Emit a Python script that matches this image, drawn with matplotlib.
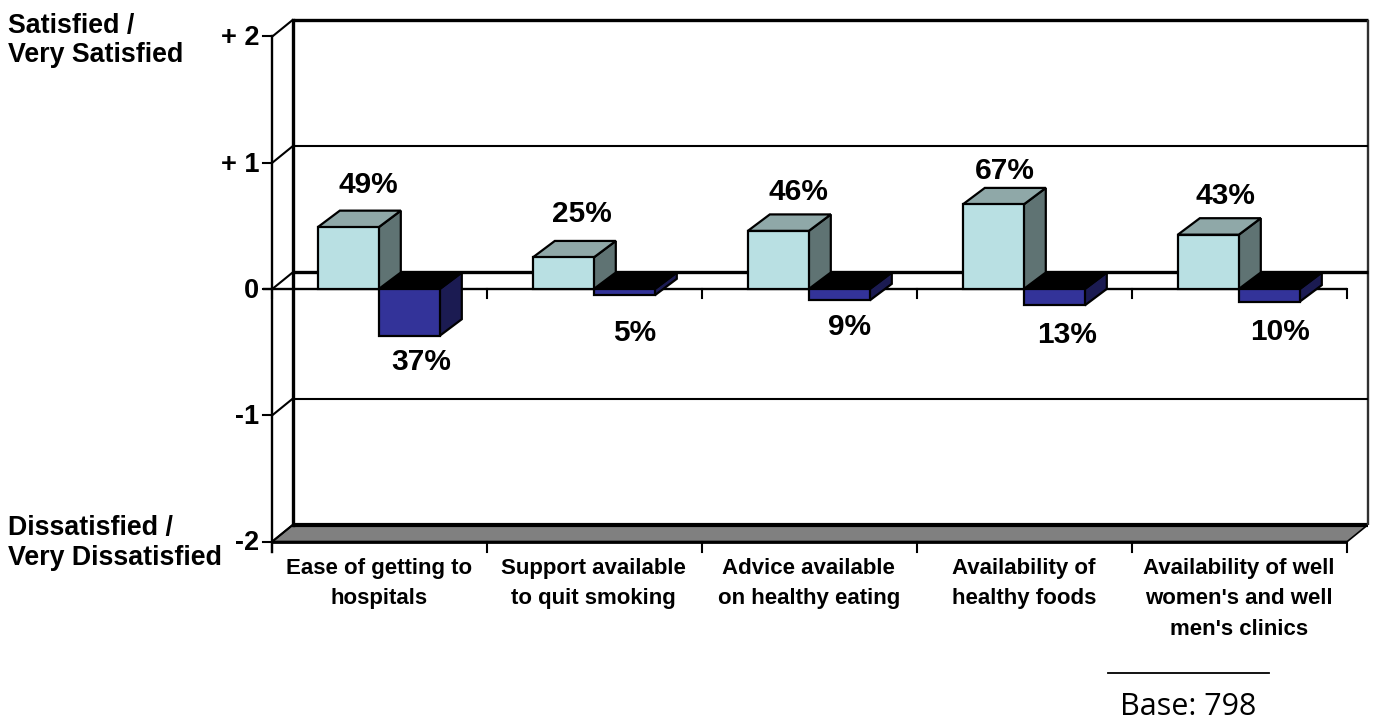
import matplotlib
matplotlib.use('Agg')
import matplotlib.pyplot as plt
from matplotlib.patches import Polygon

plt.rcParams['font.family'] = ['Liberation Sans', 'DejaVu Sans']

categories = ['Ease of getting to\nhospitals',
              'Support available\nto quit smoking',
              'Advice available\non healthy eating',
              'Availability of\nhealthy foods',
              "Availability of well\nwomen's and well\nmen's clinics"]
satisfied = [49, 25, 46, 67, 43]
dissatisfied = [37, 5, 9, 13, 10]
y_ticks = [2, 1, 0, -1, -2]
y_tick_labels = ['+ 2', '+ 1', '0', '-1', '-2']

W, H = 1374, 720
X0, CW = 272.3, 215.0    # left end of the axis, width of one category
Y0, UH = 289, 126.25     # pixel row of score 0, pixels per score unit
WX, WY = 20.3 / CW, 16.5 / UH   # depth of the walls
BX, BY = 22 / CW, 16.5 / UH     # depth of the bars
BW = 61 / CW

fig = plt.figure(figsize=(W / 100, H / 100), dpi=100)
ax = fig.add_axes([0, 0, 1, 1])
ax.set_xlim(-X0 / CW, (W - X0) / CW)
ax.set_ylim((Y0 - H) / UH, Y0 / UH)
ax.axis('off')


def px(x, y):
    return (x - X0) / CW, (Y0 - y) / UH


def box(x, y0, y1, front, side, top, z):
    # a bar with its depth faces, y0 is the base and y1 the far end
    lo, hi = min(y0, y1), max(y0, y1)
    faces = [
        ([(x + BW, lo), (x + BW + BX, lo + BY), (x + BW + BX, hi + BY), (x + BW, hi)], side),
        ([(x, hi), (x + BX, hi + BY), (x + BW + BX, hi + BY), (x + BW, hi)], top),
        ([(x, lo), (x + BW, lo), (x + BW, hi), (x, hi)], front),
    ]
    for pts, col in faces:
        ax.add_patch(Polygon(pts, closed=True, fc=col, ec='black', lw=1.6, zorder=z, joinstyle='miter'))


ymin, ymax = y_ticks[-1], y_ticks[0]
n = len(categories)

# floor
ax.add_patch(Polygon([(0, ymin), (WX, ymin + WY), (n + WX, ymin + WY), (n, ymin)], closed=True,
                     fc='#808080', ec='black', lw=1.2, zorder=1))
ax.plot([WX, n + WX], [ymin + WY, ymin + WY], color='black', lw=3, zorder=2, solid_capstyle='butt')
ax.plot([0, n], [ymin, ymin], color='black', lw=2, zorder=2, solid_capstyle='butt')

# back wall and side wall
ax.plot([WX, WX], [ymin + WY, ymax + WY], color='black', lw=2.4, zorder=2, solid_capstyle='projecting')
ax.plot([WX, n + WX], [ymax + WY, ymax + WY], color='black', lw=2.4, zorder=2, solid_capstyle='butt')
ax.plot([n + WX, n + WX], [ymin + WY, ymax + WY], color='#303030', lw=1.7, zorder=2, solid_capstyle='butt')
ax.plot([0, 0], [ymin - 10 / UH, ymax], color='black', lw=1.7, zorder=2)
for t in y_ticks:
    if t not in (ymin, ymax):
        ax.plot([WX, n + WX], [t + WY, t + WY], color='black', lw=2.4 if t == 0 else 1.5,
                zorder=2, solid_capstyle='butt')
    ax.plot([0, WX], [t, t + WY], color='black', lw=1.5, zorder=2)
    ax.plot([-9 / CW, 0], [t, t], color='black', lw=1.5, zorder=2)

# zero line and its ticks, bottom ticks
ax.plot([-9 / CW, n], [0, 0], color='black', lw=1.7, zorder=3, solid_capstyle='butt')
for i in range(n + 1):
    ax.plot([i, i], [0, -9 / UH], color='black', lw=1.5, zorder=3)
    ax.plot([i, i], [ymin, ymin - 10 / UH], color='black', lw=1.5, zorder=3)

# bars, dissatisfied first so the light bar's side sits on top
for i in range(n):
    cx = i + 0.5 - 1 / CW
    box(cx, 0, -dissatisfied[i] / 100, '#333399', '#1b1b52', '#000000', 5 + i)
    box(cx - BW, 0, satisfied[i] / 100, '#b9e0e3', '#5f7373', '#8fa8a8', 6 + i)

# value labels, pixel nudges away from each bar's end
sat_nudge = [(20, 42), (18.5, 43), (20.5, 39), (11.5, 33), (17.5, 39)]
dis_nudge = [(12, -26), (10, -38), (10.5, -27), (12.5, -30), (10.5, -30)]
for i in range(n):
    cx = i + 0.5 - 1 / CW
    ax.annotate(f'{satisfied[i]}%', (cx - BW / 2, satisfied[i] / 100), xytext=sat_nudge[i],
                textcoords='offset pixels', ha='center', va='center', fontsize=21.5,
                fontweight='bold', zorder=20)
    ax.annotate(f'{dissatisfied[i]}%', (cx + BW / 2, -dissatisfied[i] / 100), xytext=dis_nudge[i],
                textcoords='offset pixels', ha='center', va='center', fontsize=21.5,
                fontweight='bold', zorder=20)

# score tick labels
for t, lab in zip(y_ticks, y_tick_labels):
    ax.text(-13 / CW, t - 2 / UH, lab, ha='right', va='center', fontsize=19.5, fontweight='bold')

# category labels
for i, lab in enumerate(categories):
    x, y = px(X0 + CW * (i + 0.5) - 1, 558)
    ax.text(x, y, lab, ha='center', va='top', fontsize=16, fontweight='bold', linespacing=1.58)

# scale end captions
x, y = px(8, 41)
ax.text(x, y, 'Satisfied /\nVery Satisfied', ha='left', va='center', fontsize=19.3,
        fontweight='bold', linespacing=1.15)
x, y = px(8, 543)
ax.text(x, y, 'Dissatisfied /\nVery Dissatisfied', ha='left', va='center', fontsize=19.3,
        fontweight='bold', linespacing=1.22)

# base note
ax.plot(*zip(px(1108, 673), px(1269, 673)), color='black', lw=1.3)
x, y = px(1120, 707)
ax.text(x, y, 'Base: 798', ha='left', va='center', fontsize=22, family='Open Sans')

fig.savefig('out.png', dpi=100)
